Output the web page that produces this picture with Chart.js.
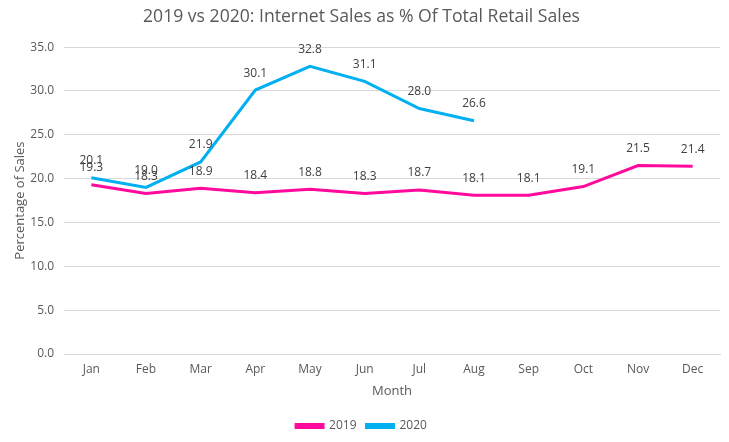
<!DOCTYPE html>
<html>
<head>
<meta charset="utf-8">
<script src="https://cdn.jsdelivr.net/npm/chart.js@4"></script>
<style>
    html, body { margin: 0; padding: 0; background: #fff; }
    #wrap { width: 729px; height: 442px; }
</style>
</head>
<body>
<div id="wrap"><canvas id="chart" width="729" height="442"></canvas></div>
<script>
const months = ["Jan", "Feb", "Mar", "Apr", "May", "Jun", "Jul", "Aug", "Sep", "Oct", "Nov", "Dec"];
const sales2019 = [19.3, 18.3, 18.9, 18.4, 18.8, 18.3, 18.7, 18.1, 18.1, 19.1, 21.5, 21.4];
const sales2020 = [20.1, 19.0, 21.9, 30.1, 32.8, 31.1, 28.0, 26.6];

const fontFamily = "'Open Sans', 'Noto Sans', sans-serif";

// draw the value above each point
const valueLabels = {
    id: "valueLabels",
    afterDatasetsDraw(chart) {
        const ctx = chart.ctx;
        ctx.save();
        ctx.font = "12px " + fontFamily;
        ctx.fillStyle = "#404040";
        ctx.textAlign = "center";
        ctx.textBaseline = "middle";
        chart.data.datasets.forEach((ds, i) => {
            chart.getDatasetMeta(i).data.forEach((pt, j) => {
                ctx.fillText(ds.data[j].toFixed(1), pt.x, pt.y - 17);
            });
        });
        ctx.restore();
    }
};

new Chart(document.getElementById("chart"), {
    type: "line",
    data: {
        labels: months,
        datasets: [
            {
                label: "2019",
                data: sales2019,
                borderColor: "#FF0A9C",
                backgroundColor: "#FF0A9C",
                borderWidth: 3,
                pointRadius: 0,
                tension: 0
            },
            {
                label: "2020",
                data: sales2020,
                borderColor: "#00B0F0",
                backgroundColor: "#00B0F0",
                borderWidth: 3,
                pointRadius: 0,
                tension: 0
            }
        ]
    },
    options: {
        responsive: false,
        animation: false,
        layout: { padding: { left: 3, right: 9, top: 2, bottom: 0 } },
        plugins: {
            title: {
                display: true,
                text: "2019 vs 2020: Internet Sales as % Of Total Retail Sales",
                color: "#595959",
                font: { family: fontFamily, size: 17.6, weight: "normal" },
                padding: { top: 4, bottom: 20 }
            },
            legend: {
                position: "bottom",
                labels: {
                    color: "#595959",
                    font: { family: fontFamily, size: 12 },
                    boxWidth: 27,
                    boxHeight: 3,
                    padding: 10
                }
            },
            tooltip: { enabled: false }
        },
        scales: {
            x: {
                offset: true,
                grid: { display: false, drawTicks: false },
                border: { color: "#D9D9D9" },
                ticks: { color: "#595959", font: { family: fontFamily, size: 12 }, padding: 8 },
                title: {
                    display: true,
                    text: "Month",
                    color: "#595959",
                    font: { family: fontFamily, size: 13 },
                    padding: { top: -1, bottom: 11 }
                }
            },
            y: {
                min: 0,
                max: 35,
                afterFit: (s) => { s.width = 61; },
                ticks: {
                    stepSize: 5,
                    color: "#595959",
                    font: { family: fontFamily, size: 12 },
                    padding: 10,
                    callback: (v) => v.toFixed(1)
                },
                grid: { color: "#D9D9D9", drawTicks: false },
                border: { display: false },
                title: {
                    display: true,
                    text: "Percentage of Sales",
                    color: "#595959",
                    font: { family: fontFamily, size: 13 },
                    padding: { top: 9, bottom: 0 }
                }
            }
        }
    },
    plugins: [valueLabels]
});
</script>
</body>
</html>
